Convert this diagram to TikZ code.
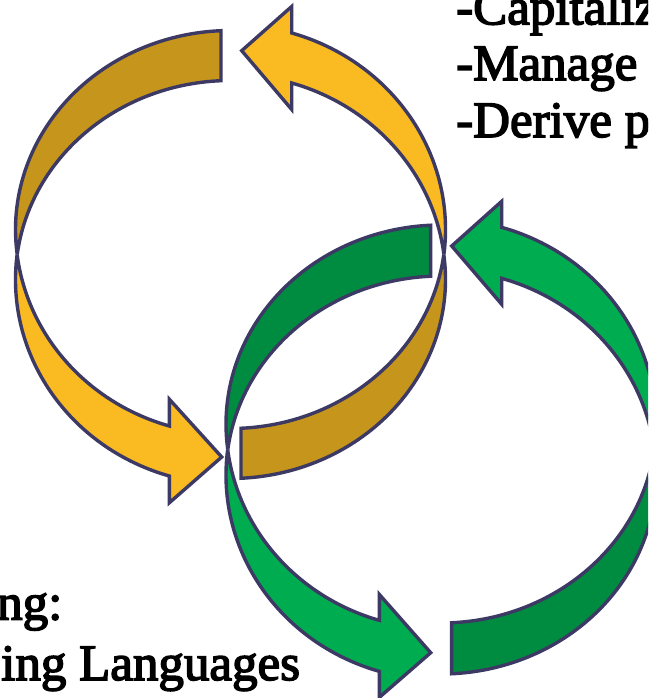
\documentclass[tikz,border=0pt]{standalone}
\usepackage{fontspec}
\setmainfont{Liberation Serif}
\newfontfamily\labelfont[FakeBold=3]{Liberation Serif}
\definecolor{ringline}{HTML}{3C3A64}
\definecolor{golddk}{HTML}{C6961C}
\definecolor{goldlt}{HTML}{F9BA22}
\definecolor{greendk}{HTML}{008C40}
\definecolor{greenlt}{HTML}{00AC50}
\begin{document}
\begin{tikzpicture}[x=1pt,y=1pt,
  outline/.style={draw=ringline, line width=3.4pt},
  golddark/.style={outline, fill=golddk},
  goldlight/.style={outline, fill=goldlt},
  greendark/.style={outline, fill=greendk},
  greenlight/.style={outline, fill=greenlt},
  caption/.style={inner sep=0pt, anchor=base west, font=\labelfont\fontsize{51}{56}\selectfont}]
\useasboundingbox (0,0) rectangle (648,-698);
\clip (0,0) rectangle (648,-698);

% centres of the two rims of each twisted ring
\coordinate (yA) at (230.5,-229.5);
\coordinate (yB) at (230.5,-279.5);
\coordinate (gA) at (441,-424);
\coordinate (gB) at (441,-475);

% ---------- gold ring ----------
% upper left, back face
\path[golddark] ([shift={(yA)}]92.53:215pt and 199pt)
  arc[start angle=92.53, end angle=187.22, x radius=215pt, y radius=199pt]
  -- ([shift={(yB)}]172.78:215pt and 199pt)
  arc[start angle=172.78, end angle=92.53, x radius=215pt, y radius=199pt] -- cycle;
% lower left, front face with arrow head
\path[goldlight] ([shift={(yA)}]187.0:215pt and 205pt)
  arc[start angle=187.0, end angle=253.46, x radius=215pt, y radius=205pt]
  -- (169.3,-399.2) -- (221.7,-457) -- (169.3,-502.8)
  -- ([shift={(yB)}]253.46:215pt and 205pt)
  arc[start angle=253.46, end angle=173.0, x radius=215pt, y radius=205pt] -- cycle;
% lower right, back face
\path[golddark] ([shift={(yA)}]-87.2:215pt and 199pt)
  arc[start angle=-87.2, end angle=-7.22, x radius=215pt, y radius=199pt]
  -- ([shift={(yB)}]7.22:215pt and 199pt)
  arc[start angle=7.22, end angle=-87.2, x radius=215pt, y radius=199pt] -- cycle;
% upper right, front face with arrow head
\path[goldlight] ([shift={(yA)}]-7.0:215pt and 205pt)
  arc[start angle=-7.0, end angle=73.46, x radius=215pt, y radius=205pt]
  -- (291.7,-6.5) -- (241.7,-50.7) -- (291.7,-109.5)
  -- ([shift={(yB)}]73.46:215pt and 205pt)
  arc[start angle=73.46, end angle=7.0, x radius=215pt, y radius=205pt] -- cycle;

% ---------- green ring ----------
\path[greendark] ([shift={(gA)}]92.75:215pt and 199pt)
  arc[start angle=92.75, end angle=187.36, x radius=215pt, y radius=199pt]
  -- ([shift={(gB)}]172.64:215pt and 199pt)
  arc[start angle=172.64, end angle=92.75, x radius=215pt, y radius=199pt] -- cycle;
\path[greenlight] ([shift={(gA)}]187.15:215pt and 205pt)
  arc[start angle=187.15, end angle=253.32, x radius=215pt, y radius=205pt]
  -- (379.3,-594.4) -- (430.7,-652.7) -- (379.3,-697.4)
  -- ([shift={(gB)}]253.32:215pt and 205pt)
  arc[start angle=253.32, end angle=172.85, x radius=215pt, y radius=205pt] -- cycle;
\path[greendark] ([shift={(gA)}]-87.15:215pt and 199pt)
  arc[start angle=-87.15, end angle=-7.36, x radius=215pt, y radius=199pt]
  -- ([shift={(gB)}]7.36:215pt and 199pt)
  arc[start angle=7.36, end angle=-87.15, x radius=215pt, y radius=199pt] -- cycle;
\path[greenlight] ([shift={(gA)}]-7.15:215pt and 205pt)
  arc[start angle=-7.15, end angle=73.60, x radius=215pt, y radius=205pt]
  -- (501.7,-201.3) -- (451.7,-246) -- (501.7,-304.3)
  -- ([shift={(gB)}]73.60:215pt and 205pt)
  arc[start angle=73.60, end angle=7.15, x radius=215pt, y radius=205pt] -- cycle;

% ---------- text ----------
\node[caption] (cap1) at (456,-24.3) {-Capitaliz};
\node[caption] (cap2) at (456,-80) {-Manage};
\node[caption] (cap3) at (456,-137) {-Derive p};
\node[caption] (lang1) at (-3,-619.5) {ng:};
\node[caption] (lang2) at (1,-680) {ing Languages};
\end{tikzpicture}
\end{document}
